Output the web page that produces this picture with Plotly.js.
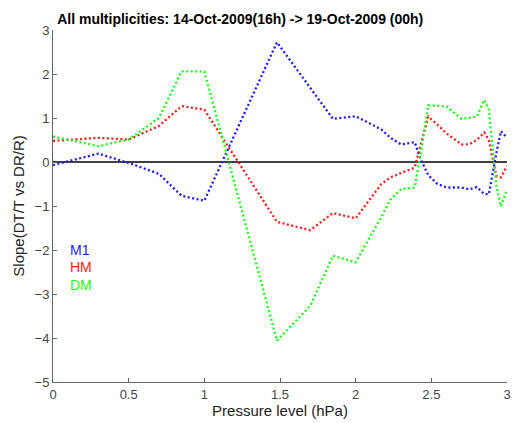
<!DOCTYPE html>
<html>
<head>
<meta charset="utf-8">
<script src="https://cdn.plot.ly/plotly-3.0.1.min.js"></script>
<style>html,body{margin:0;padding:0;background:#fff;}#chart{width:520px;height:423px;}</style>
</head>
<body>
<div id="chart"></div>
<script>
// Pressure levels (hPa)
const pressure = [0, 0.3, 0.5, 0.7, 0.85, 1.0, 1.48, 1.7, 1.85, 2.0, 2.17, 2.23, 2.3, 2.39, 2.43, 2.48, 2.54, 2.6, 2.7, 2.75, 2.8, 2.85, 2.88, 2.93, 2.96, 3.0];
// Slope values per multiplicity
const m1 = [-0.07, 0.19, -0.02, -0.27, -0.77, -0.88, 2.72, 1.70, 0.98, 1.04, 0.74, 0.55, 0.40, 0.45, 0.06, -0.30, -0.50, -0.58, -0.58, -0.62, -0.57, -0.73, -0.73, 0.21, 0.70, 0.55];
const hm = [0.48, 0.55, 0.51, 0.82, 1.27, 1.19, -1.36, -1.55, -1.16, -1.28, -0.50, -0.35, -0.25, -0.13, 0.40, 1.03, 0.85, 0.65, 0.40, 0.40, 0.50, 0.67, 0.50, -0.32, -0.35, -0.09];
const dm = [0.58, 0.36, 0.51, 1.00, 2.06, 2.06, -4.06, -3.27, -2.13, -2.28, -1.25, -0.85, -0.62, -0.58, 0.20, 1.29, 1.28, 1.26, 0.98, 1.00, 1.03, 1.41, 1.20, -0.54, -1.01, -0.63];
const seriesNames = ["M1", "HM", "DM"];
const seriesColors = ["#1a1aff", "#ff1a1a", "#1aff1a"];
const xTicks = [0, 0.5, 1, 1.5, 2, 2.5, 3];
const xTickText = ["0", "0.5", "1", "1.5", "2", "2.5", "3"];
const yTicks = [-5, -4, -3, -2, -1, 0, 1, 2, 3];

const FONT = "Liberation Sans, Arial, sans-serif";
const values = [m1, hm, dm];
const traces = values.map((v, i) => ({
  x: pressure, y: v, type: "scatter", mode: "lines", name: seriesNames[i],
  line: {color: seriesColors[i], width: 2.3, dash: "2px,2.5px"},
  hoverinfo: "skip"
}));

const legendY = [0.375, 0.327, 0.276];
const annotations = seriesNames.map((n, i) => ({
  xref: "paper", yref: "paper", x: 0.033, y: legendY[i], xanchor: "left", yanchor: "middle",
  text: n, showarrow: false, font: {family: FONT, size: 14, color: seriesColors[i]}
}));

const layout = {
  width: 520, height: 423,
  margin: {l: 53, r: 13, t: 30, b: 41},
  paper_bgcolor: "#fff", plot_bgcolor: "#fff",
  showlegend: false,
  title: {text: "<b>All multiplicities: 14-Oct-2009(16h) -> 19-Oct-2009 (00h)</b>",
    xref: "container", x: 0.462, xanchor: "center", yref: "container", y: 0.955, yanchor: "middle",
    font: {family: FONT, size: 14, color: "#000"}},
  xaxis: {range: [0, 3], tickvals: xTicks, ticktext: xTickText, ticks: "inside", ticklen: 4, tickcolor: "#666",
    showline: true, linecolor: "#666", linewidth: 1, showgrid: false, zeroline: false,
    tickfont: {family: FONT, size: 13, color: "#444"},
    title: {text: "Pressure level (hPa)", standoff: 3, font: {family: FONT, size: 15, color: "#222"}}},
  yaxis: {range: [-5, 3], tickvals: yTicks, ticks: "inside", ticklen: 4, tickcolor: "#666",
    showline: true, linecolor: "#666", linewidth: 1, showgrid: false, zeroline: false,
    tickfont: {family: FONT, size: 13, color: "#444"},
    title: {text: "Slope(DT/T vs DR/R)", standoff: 6, font: {family: FONT, size: 15, color: "#222"}}},
  shapes: [{type: "line", xref: "x", yref: "y", x0: 0, x1: 3, y0: 0, y1: 0, line: {color: "#000", width: 1.5}, layer: "below"}],
  annotations: annotations
};

Plotly.newPlot("chart", traces, layout, {staticPlot: true, displayModeBar: false});
</script>
</body>
</html>
